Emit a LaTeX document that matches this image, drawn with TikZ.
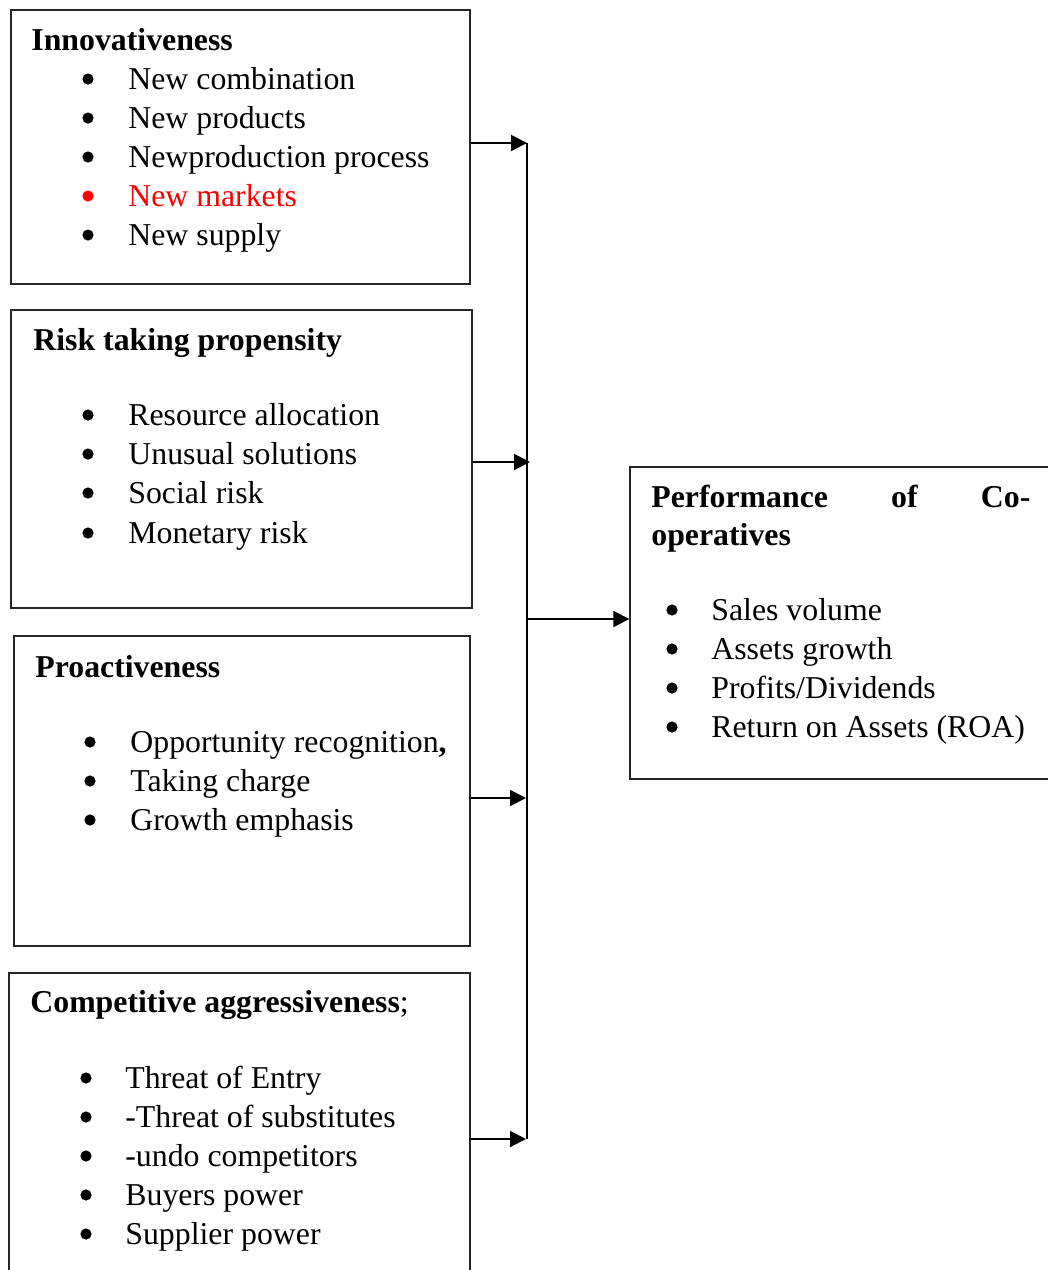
\documentclass[tikz,border=0pt]{standalone}
\usepackage{fontspec}
\setmainfont{Liberation Serif}
\usetikzlibrary{arrows.meta,fit}
\begin{document}
\begin{tikzpicture}[x=0.5pt,y=-0.5pt,
  box/.style={draw=black!85,line width=0.7pt,inner sep=0pt},
  txt/.style={anchor=base west,inner sep=0pt,font=\fontsize{15.9}{19.5}\selectfont},
  ttl/.style={txt,font=\fontsize{15.9}{19.5}\selectfont\bfseries},
  dot/.style={circle,fill=black,inner sep=0pt,minimum size=5.6pt},
  arr/.style={line width=1pt,-{Triangle[length=8pt,width=8pt]}},
  bus/.style={line width=0.75pt}]
\useasboundingbox (0,0) rectangle (1048,1270);
% boxes
\node[box,fit={(11,10)(470,284)}] (b1) {};
\node[box,fit={(11,310)(472,608)}] (b2) {};
\node[box,fit={(14,636)(470,946)}] (b3) {};
\node[box,fit={(9,973)(470,1300)}] (b4) {};
\node[box,fit={(630,467)(1070,779)}] (b5) {};
% box 1
\node[ttl] (t1) at (31,50) {Innovativeness};
\foreach \y/\t/\c [count=\i] in {89/New combination/black,128/New products/black,167/Newproduction process/black,206/New markets/red,245/New supply/black}{
  \node[dot,fill=\c] (b1d\i) at (88,\y-10) {};
  \node[txt,text=\c] (b1t\i) at (128,\y) {\t};
}
% box 2
\node[ttl] (t2) at (33,350) {Risk taking propensity};
\foreach \y/\t [count=\i] in {425/Resource allocation,464/Unusual solutions,503/Social risk,543/Monetary risk}{
  \node[dot] (b2d\i) at (88,\y-10) {};
  \node[txt] (b2t\i) at (128,\y) {\t};
}
% box 3
\node[ttl] (t3) at (35,677) {Proactiveness};
\node[dot] (b3d1) at (90,742) {};
\node[txt] (b3t1) at (130,752) {Opportunity recognition\textbf{,}};
\node[dot] (b3d2) at (90,781) {};
\node[txt] (b3t2) at (130,791) {Taking charge};
\node[dot] (b3d3) at (90,820) {};
\node[txt] (b3t3) at (130,830) {Growth emphasis};
% box 4
\node[txt] (t4) at (30,1012) {\textbf{Competitive aggressiveness};};
\foreach \y/\t [count=\i] in {1088/Threat of Entry,1127/-Threat of substitutes,1166/-undo competitors,1205/Buyers power,1244/Supplier power}{
  \node[dot] (b4d\i) at (86,\y-10) {};
  \node[txt] (b4t\i) at (125,\y) {\t};
}
% box 5
\node[ttl] (t5a) at (651,507) {\makebox[189.5pt][s]{Performance\hfill of\hfill Co-}};
\node[ttl] (t5b) at (651,545) {operatives};
\foreach \y/\t [count=\i] in {620/{Sales volume},659/{Assets growth},698/{Profits/Dividends},737/{Return on Assets (ROA)}}{
  \node[dot] (b5d\i) at (672,\y-10) {};
  \node[txt] (b5t\i) at (711,\y) {\t};
}
% connectors
\coordinate (j1) at (527,143);
\coordinate (j2) at (530,462);
\coordinate (j3) at (526,798);
\coordinate (j4) at (526,1139);
\coordinate (j5) at (528,619);
\draw[bus] (j1) -- (527,1139);
\draw[arr] (b1.east |- j1) -- (j1);
\draw[arr] (b2.east |- j2) -- (j2);
\draw[arr] ([xshift=-1pt]b3.east |- j3) -- (j3);
\draw[arr] ([xshift=-1pt]b4.east |- j4) -- (j4);
\draw[arr] (j5) -- (b5.west |- j5);
\end{tikzpicture}
\end{document}
